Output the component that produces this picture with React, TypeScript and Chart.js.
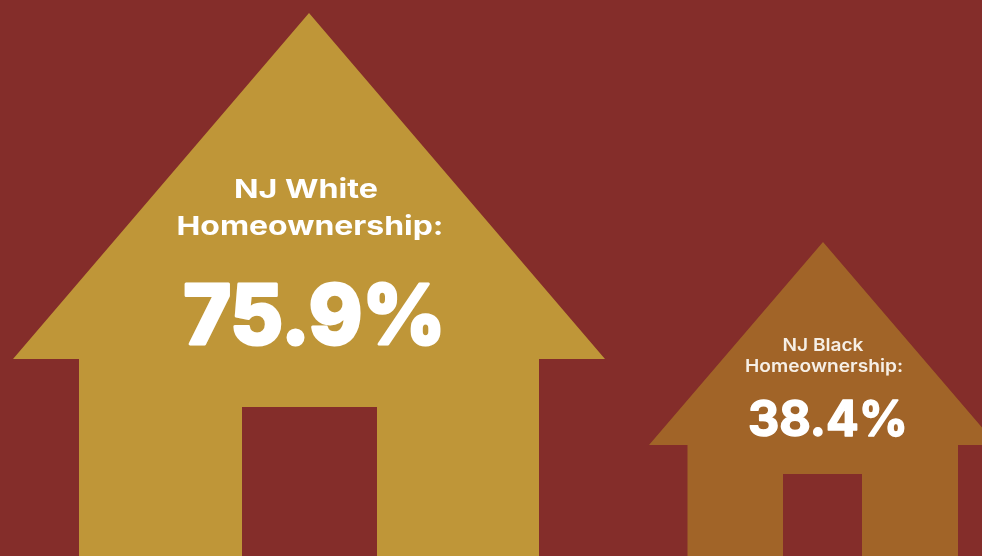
import React, { useEffect, useRef } from "react";
import { Chart, registerables } from "chart.js";

Chart.register(...registerables);

// House outlines, in the chart's own units (door is cut out of the outline)
const whiteHouseX = [79, 79, 13, 309, 605, 539, 539, 377, 377, 242, 242, 79];
const whiteHouseY = [556, 359, 359, 13, 359, 359, 556, 556, 407, 407, 556, 556];
const blackHouseX = [687.5, 687.5, 649, 823, 997, 958, 958, 862, 862, 783, 783, 687.5];
const blackHouseY = [556, 445, 445, 242, 445, 445, 556, 556, 474, 474, 556, 556];

const groups = ["NJ White", "NJ Black"];
const rates = [75.9, 38.4];
const metric = "Homeownership:";

const BG = "#842d2a";
const GOLD = "#bf9638";
const BRONZE = "#a16428";

const zip = (xs: number[], ys: number[]) => xs.map((x, i) => ({ x, y: ys[i] }));

type Cfg = { text: string; cx: number; base: number; w: number; size: number; weight: number; color: string; stroke: number };

const texts: Cfg[] = [
  { text: groups[0], cx: 306, base: 197.5, w: 144, size: 26, weight: 700, color: "#ffffff", stroke: 0 },
  { text: metric, cx: 310, base: 234.5, w: 267, size: 26, weight: 700, color: "#ffffff", stroke: 0 },
  { text: rates[0].toFixed(1) + "%", cx: 314.5, base: 344, w: 262, size: 83, weight: 800, color: "#ffffff", stroke: 3 },
  { text: groups[1], cx: 823, base: 351, w: 81, size: 17.5, weight: 600, color: "#f6efe6", stroke: 0 },
  { text: metric, cx: 824, base: 372, w: 158, size: 17.5, weight: 600, color: "#f6efe6", stroke: 0 },
  { text: rates[1].toFixed(1) + "%", cx: 828, base: 436, w: 160, size: 49, weight: 700, color: "#ffffff", stroke: 1.5 },
];

const textPlugin = {
  id: "houseText",
  afterDatasetsDraw(chart: any) {
    const { ctx, scales } = chart;
    ctx.save();
    ctx.textAlign = "left";
    ctx.textBaseline = "alphabetic";
    ctx.lineJoin = "round";
    for (const t of texts) {
      ctx.font = `${t.weight} ${t.size}px Inter, "Noto Sans", sans-serif`;
      ctx.fillStyle = t.color;
      ctx.strokeStyle = t.color;
      const m = ctx.measureText(t.text);
      const sx = t.w / m.width;
      ctx.save();
      ctx.translate(scales.x.getPixelForValue(t.cx) - t.w / 2, scales.y.getPixelForValue(t.base));
      ctx.scale(sx, 1);
      if (t.stroke > 0) {
        ctx.lineWidth = t.stroke;
        ctx.strokeText(t.text, 0, 0);
      }
      ctx.fillText(t.text, 0, 0);
      ctx.restore();
    }
    ctx.restore();
  },
};

export default function App() {
  const ref = useRef<HTMLCanvasElement>(null);
  useEffect(() => {
    const chart = new Chart(ref.current!, {
      type: "scatter",
      data: {
        datasets: [
          {
            label: groups[0],
            data: zip(whiteHouseX, whiteHouseY),
            showLine: true,
            fill: "shape",
            backgroundColor: GOLD,
            borderWidth: 0,
            pointRadius: 0,
          },
          {
            label: groups[1],
            data: zip(blackHouseX, blackHouseY),
            showLine: true,
            fill: "shape",
            backgroundColor: BRONZE,
            borderWidth: 0,
            pointRadius: 0,
          },
        ],
      },
      options: {
        responsive: false,
        animation: false,
        layout: { padding: 0 },
        plugins: { legend: { display: false }, tooltip: { enabled: false } },
        scales: {
          x: { type: "linear", display: false, min: 0, max: 982 },
          y: { type: "linear", display: false, min: 0, max: 556, reverse: true },
        },
      } as any,
      plugins: [textPlugin],
    });
    return () => chart.destroy();
  }, []);
  return (
    <div style={{ position: "fixed", left: 0, top: 0, width: 982, height: 556, background: BG, overflow: "hidden" }}>
      <canvas ref={ref} width={982} height={556} style={{ display: "block" }} />
    </div>
  );
}
